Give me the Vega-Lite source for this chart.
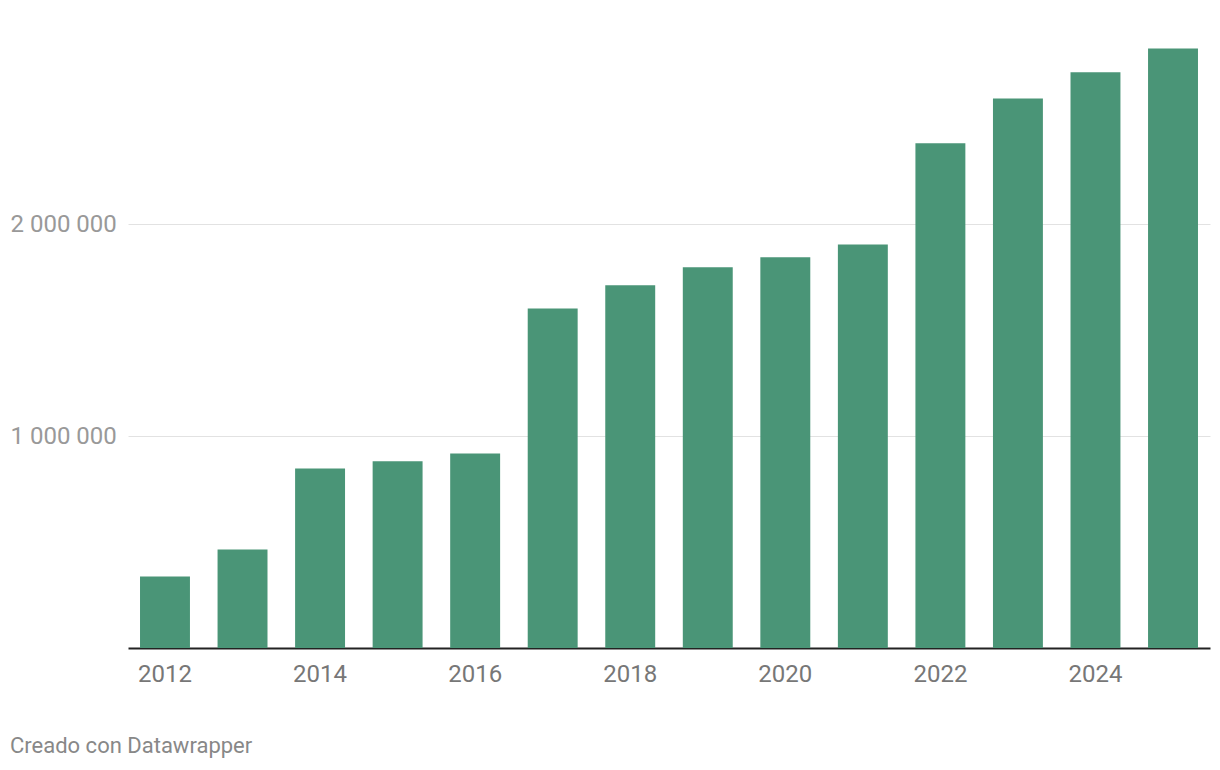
{
  "$schema": "https://vega.github.io/schema/vega-lite/v6.json",
  "autosize": {"type": "none"},
  "width": 1082,
  "height": 600,
  "padding": {"left": 128, "top": 48, "right": 10, "bottom": 122},
  "background": "white",
  "config": {
    "view": {"stroke": null},
    "font": "Roboto"
  },
  "title": {
    "text": "Creado con Datawrapper",
    "orient": "bottom",
    "anchor": "start",
    "frame": "group",
    "dx": -118,
    "offset": 50,
    "fontSize": 22,
    "fontWeight": "normal",
    "color": "#888888",
    "font": "Roboto"
  },
  "data": {
    "values": [
      {"year": 2012, "value": 338000},
      {"year": 2013, "value": 465000},
      {"year": 2014, "value": 847000},
      {"year": 2015, "value": 881000},
      {"year": 2016, "value": 918000},
      {"year": 2017, "value": 1603000},
      {"year": 2018, "value": 1712000},
      {"year": 2019, "value": 1797000},
      {"year": 2020, "value": 1844000},
      {"year": 2021, "value": 1905000},
      {"year": 2022, "value": 2382000},
      {"year": 2023, "value": 2594000},
      {"year": 2024, "value": 2717000},
      {"year": 2025, "value": 2830000}
    ]
  },
  "mark": {"type": "bar", "color": "#4a9577"},
  "encoding": {
    "x": {
      "field": "year",
      "type": "ordinal",
      "scale": {"paddingInner": 0.356, "paddingOuter": 0.155},
      "axis": {
        "title": null,
        "values": [2012, 2014, 2016, 2018, 2020, 2022, 2024],
        "labelAngle": 0,
        "labelFontSize": 24,
        "labelColor": "#777777",
        "labelFont": "Roboto",
        "labelPadding": 14,
        "ticks": false,
        "tickSize": 0,
        "domainColor": "#222222",
        "domainWidth": 2,
        "grid": false
      }
    },
    "y": {
      "field": "value",
      "type": "quantitative",
      "scale": {"domain": [0, 2832000], "nice": false},
      "axis": {
        "title": null,
        "values": [1000000, 2000000],
        "labelExpr": "replace(format(datum.value, ','), regexp(',', 'g'), ' ')",
        "labelAlign": "left",
        "labelBaseline": "middle",
        "labelPadding": 118,
        "labelFontSize": 24,
        "labelColor": "#999999",
        "labelFont": "Roboto",
        "ticks": false,
        "tickSize": 0,
        "domain": false,
        "grid": true,
        "gridColor": "#e2e2e2",
        "gridWidth": 1
      }
    }
  }
}
